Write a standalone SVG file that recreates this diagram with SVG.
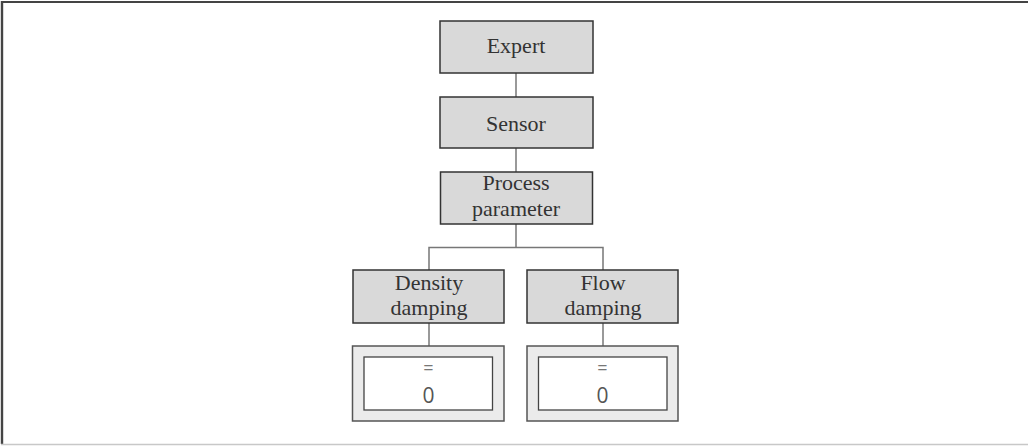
<svg xmlns="http://www.w3.org/2000/svg" width="1028" height="446" viewBox="0 0 1028 446">
  <style>
    .box { fill: #d9d9d9; stroke: #333333; stroke-width: 1.5; }
    .outer { fill: #ebebeb; stroke: #555555; stroke-width: 1.5; }
    .inner { fill: #ffffff; stroke: #444444; stroke-width: 1.3; }
    .lbl { font-family: "Liberation Serif", "DejaVu Serif", serif; font-size: 22px; fill: #333333; text-anchor: middle; }
    .val { font-family: "Open Sans", "Liberation Sans", sans-serif; font-size: 21px; fill: #555555; text-anchor: middle; }
    .eq { font-family: "Open Sans", "Liberation Sans", sans-serif; font-size: 18px; fill: #777777; text-anchor: middle; }
    .conn { fill: none; stroke: #777777; stroke-width: 1.5; }
  </style>
  <rect x="0" y="0" width="1028" height="446" fill="#ffffff"/>
  <g id="frame">
    <line x1="2" y1="2" x2="1028" y2="2" stroke="#444444" stroke-width="2"/>
    <line x1="2" y1="1" x2="2" y2="444" stroke="#444444" stroke-width="2.4"/>
    <line x1="1" y1="444.5" x2="1028" y2="444.5" stroke="#c8c8c8" stroke-width="1.5"/>
  </g>
  <g id="connectors">
    <line class="conn" x1="516" y1="73" x2="516" y2="97"/>
    <line class="conn" x1="516" y1="148" x2="516" y2="172"/>
    <line class="conn" x1="516" y1="224" x2="516" y2="247.5"/>
    <polyline class="conn" points="429,270 429,247.5 603,247.5 603,270"/>
    <line class="conn" x1="429" y1="323" x2="429" y2="346"/>
    <line class="conn" x1="603" y1="323" x2="603" y2="346"/>
  </g>
  <g id="expert">
    <rect class="box" x="440" y="21" width="153" height="52"/>
    <text class="lbl" x="516" y="52.5">Expert</text>
  </g>
  <g id="sensor">
    <rect class="box" x="440" y="97" width="153" height="51"/>
    <text class="lbl" x="516" y="130.5">Sensor</text>
  </g>
  <g id="process-parameter">
    <rect class="box" x="440.5" y="172" width="152" height="52"/>
    <text class="lbl" x="516" y="189.5">Process</text>
    <text class="lbl" x="516" y="215.5">parameter</text>
  </g>
  <g id="density-damping">
    <rect class="box" x="353" y="270" width="151" height="53"/>
    <text class="lbl" x="429" y="290">Density</text>
    <text class="lbl" x="429" y="314.5">damping</text>
  </g>
  <g id="flow-damping">
    <rect class="box" x="527" y="270" width="151" height="53"/>
    <text class="lbl" x="603" y="289.5">Flow</text>
    <text class="lbl" x="603" y="314.5">damping</text>
  </g>
  <g id="density-value">
    <rect class="outer" x="352.5" y="346" width="151.5" height="75"/>
    <rect class="inner" x="364" y="357" width="128.5" height="53"/>
    <text class="eq" x="428.5" y="373.5">=</text>
    <text class="val" x="428.5" y="402.5">0</text>
  </g>
  <g id="flow-value">
    <rect class="outer" x="527" y="346" width="151" height="75"/>
    <rect class="inner" x="538.5" y="357" width="128.5" height="53"/>
    <text class="eq" x="602.5" y="373.5">=</text>
    <text class="val" x="602.5" y="402.5">0</text>
  </g>
</svg>
